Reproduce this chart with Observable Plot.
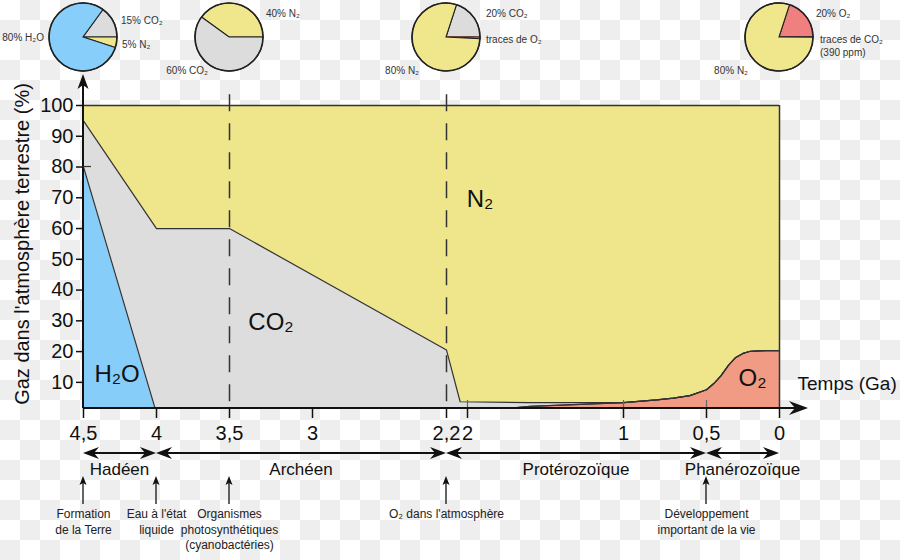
<!DOCTYPE html>
<html><head><meta charset="utf-8">
<script src="https://cdn.jsdelivr.net/npm/d3@7"></script>
<script src="https://cdn.jsdelivr.net/npm/@observablehq/plot@0.6"></script>
<style>
html,body{margin:0;padding:0;}
body{width:900px;height:560px;overflow:hidden;background-color:#fff;
background-image:linear-gradient(45deg,#eee 25%,transparent 25%,transparent 75%,#eee 75%),linear-gradient(45deg,#eee 25%,transparent 25%,transparent 75%,#eee 75%);
background-size:40px 40px;background-position:0 0,20px 20px;}
#chart svg{display:block}
</style></head><body><div id="chart"></div>
<script>
// ---- data ----
const times = [4.5, 4.0, 3.5, 2.2, 2.07, 1.6, 1.0, 0.8, 0.7, 0.6, 0.5, 0.45, 0.4, 0.35, 0.3, 0.25, 0.2, 0.1, 0];
const h2o   = [80, 0, 0, 0, 0, 0, 0, 0, 0, 0, 0, 0, 0, 0, 0, 0, 0, 0, 0];
const co2   = [15, 60, 60, 20.5, 3.7, 1.2, 0, 0, 0, 0, 0, 0, 0, 0, 0, 0, 0, 0, 0];
const o2    = [0, 0, 0, 0, 0, 2.2, 3.4, 4.3, 4.9, 5.7, 7.6, 9.6, 12.2, 15.5, 18.1, 19.4, 20.1, 20.3, 20.3];
const n2    = [5, 40, 40, 79.5, 96.3, 96.6, 96.6, 95.7, 95.1, 94.3, 92.4, 90.4, 87.8, 84.5, 81.9, 80.6, 79.9, 79.7, 79.7];

const gasKeys  = ["O2", "H2O", "CO2", "N2"];
const gasNames = ["O₂", "H₂O", "CO₂", "N₂"];
const gasLabelT = [0.185, 4.27, 3.25, 1.92];
const gasLabelV = [11.3, 12.5, 29.5, 69.4];

const xTicks = [4.5, 4, 3.5, 3, 2.2, 2, 1, 0.5, 0];
const yTicks = [10, 20, 30, 40, 50, 60, 70, 80, 90, 100];
const milestones = [3.5, 2.2];
const innerTicks = [2, 1, 0.5];

const eraNames = ["Hadéen", "Archéen", "Protérozoïque", "Phanérozoïque"];
const eraStart = [4.5, 4.0, 2.2, 0.5];
const eraEnd   = [4.0, 2.2, 0.5, 0];

const eventTimes  = [4.5, 4.0, 3.5, 2.2, 0.5];
const eventLabels = ["Formation\nde la Terre", "Eau à l'état\nliquide", "Organismes\nphotosynthétiques\n(cyanobactéries)", "O₂ dans l'atmosphère", "Développement\nimportant de la vie"];

const pieTimes  = [4.5, 3.5, 2.2, 0];
const pieGases  = [["CO2", "N2", "H2O"], ["N2", "CO2"], ["CO2", "O2", "N2"], ["O2", "CO2", "N2"]];
const pieValues = [[15, 5, 80], [40, 60], [20, 0.8, 79.2], [20, 0.04, 79.96]];
const pieLabels = [["80% H₂O", "15% CO₂", "5% N₂"], ["40% N₂", "60% CO₂"], ["20% CO₂", "traces de O₂", "80% N₂"], ["20% O₂", "traces de CO₂\n(390 ppm)", "80% N₂"]];

const yAxisTitle = "Gaz dans l'atmosphère terrestre (%)";
const xAxisTitle = "Temps (Ga)";

// ---- derived tables ----
const series = {O2: o2, H2O: h2o, CO2: co2, N2: n2};
const long = [];
for (const k of gasKeys) times.forEach((t, i) => long.push({t, gas: k, v: series[k][i]}));
const gasLabels = gasNames.map((text, i) => ({text, t: gasLabelT[i], v: gasLabelV[i]}));
const events = eventTimes.map((t, i) => ({t, label: eventLabels[i]}));

const areaColors = ["#F29B84", "#87CDF9", "#DDDDDD", "#EFE68C"];
const pieColors = {H2O: "#87CEFA", CO2: "#DCDCDC", N2: "#F0E68C", O2: "#F08080"};
const yBase = 1.5;

// layout for pie labels: [dx, dy, anchor] relative to pie centre
const pieLabelLayout = [
  [[-39, 0, "end"], [38, -17, "start"], [39, 7, "start"]],
  [[37, -24, "start"], [-21, 33, "end"]],
  [[40, -24, "start"], [40, 2, "start"], [-27, 33, "end"]],
  [[37, -24, "start"], [41, 2, "start"], [-31, 33, "end"]]
];

function head(g, tx, ty, angle, L, W, notch) {
  g.append("path")
    .attr("d", `M0,0L${-L},${-W}L${-L + notch},0L${-L},${W}Z`)
    .attr("transform", `translate(${tx},${ty}) rotate(${angle})`)
    .attr("fill", "#111").attr("stroke", "none");
}

function decorations(index, scales, values, dimensions) {
  const x = scales.x, y = scales.y;
  const {height, marginTop, marginBottom} = dimensions;
  const g = d3.create("svg:g");
  const font = "Liberation Sans, Arial, sans-serif";
  const x0 = x(4.5), xe = x(0), yb = y(yBase), yt = y(100);
  // axis lines with arrows
  g.append("line").attr("x1", x0).attr("x2", xe + 22).attr("y1", yb).attr("y2", yb).attr("stroke", "#111").attr("stroke-width", 2);
  head(g, xe + 29, yb, 0, 19, 7, 6);
  g.append("line").attr("x1", x0).attr("x2", x0).attr("y1", yb).attr("y2", yt - 26).attr("stroke", "#111").attr("stroke-width", 2);
  head(g, x0, yt - 31, -90, 15, 5.5, 4);
  // small tick at 80 crossing into the frame
  g.append("line").attr("x1", x0).attr("x2", x0 + 8).attr("y1", y(80)).attr("y2", y(80)).attr("stroke", "#333").attr("stroke-width", 1.2);
  // eras
  const ey = height - marginBottom + 45;
  eraNames.forEach((name, i) => {
    const a = x(eraStart[i]), b = x(eraEnd[i]);
    g.append("line").attr("x1", a + 6).attr("x2", b - 6).attr("y1", ey).attr("y2", ey).attr("stroke", "#111").attr("stroke-width", 2);
    head(g, b, ey, 0, 16, 6, 5);
    head(g, a, ey, 180, 16, 6, 5);
    g.append("text").attr("x", (a + b) / 2).attr("y", ey + 16).attr("dy", "0.35em")
      .attr("text-anchor", "middle").attr("font-size", 17).attr("font-family", font).attr("fill", "#111").text(name);
  });
  // event arrows
  const ay = height - marginBottom;
  eventTimes.forEach(t => {
    const px = x(t);
    g.append("line").attr("x1", px).attr("x2", px).attr("y1", ay + 96).attr("y2", ay + 74).attr("stroke", "#111").attr("stroke-width", 1.3);
    head(g, px, ay + 68, -90, 9, 3.5, 2);
  });
  // pies
  const cy = marginTop - 68, r = 34;
  pieTimes.forEach((t, p) => {
    const cx = x(t);
    const total = d3.sum(pieValues[p]);
    let a = Math.PI / 2 - pieValues[p][0] / total * 2 * Math.PI;
    const pg = g.append("g").attr("transform", `translate(${cx},${cy})`);
    pieValues[p].forEach((v, k) => {
      const a1 = a + v / total * 2 * Math.PI;
      pg.append("path").attr("d", d3.arc()({innerRadius: 0, outerRadius: r, startAngle: a, endAngle: a1}))
        .attr("fill", pieColors[pieGases[p][k]]).attr("stroke", pieGases[p][k] === "O2" && v < 2 ? "#5a1010" : "#222").attr("stroke-width", 1.1);
      a = a1;
    });
    pg.append("circle").attr("r", r).attr("fill", "none").attr("stroke", "#222").attr("stroke-width", 1.6);
    pieLabels[p].forEach((lab, k) => {
      const [dx, dy, anchor] = pieLabelLayout[p][k];
      lab.split("\n").forEach((line, j) => {
        pg.append("text").attr("x", dx).attr("y", dy + j * 13).attr("dy", "0.35em")
          .attr("text-anchor", anchor).attr("font-size", 10).attr("font-family", font).attr("fill", "#333").text(line);
      });
    });
  });
  return g.node();
}

const chart = Plot.plot({
  width: 900, height: 560,
  marginLeft: 83, marginRight: 121, marginTop: 105, marginBottom: 152,
  x: {type: "linear", domain: xTicks, range: [83, 156, 229, 312, 446, 467, 623, 706, 779]},
  y: {domain: [yBase, 100]},
  color: {domain: gasKeys, range: areaColors},
  style: {fontFamily: "Liberation Sans, Arial, sans-serif", background: "transparent", color: "#111", overflow: "visible"},
  marks: [
    Plot.areaY(long, {x: "t", y: "v", fill: "gas", order: gasKeys, clip: true}),
    Plot.lineY(long, Plot.stackY2({x: "t", y: "v", z: "gas", order: gasKeys, stroke: "#333", strokeWidth: 1.2, clip: true})),
    Plot.ruleX(innerTicks, {y1: yBase, y2: 4.1, stroke: "#666", strokeWidth: 1.2}),
    Plot.ruleX(milestones, {y1: 103.5, y2: yBase, stroke: "#333", strokeWidth: 1.5, strokeDasharray: "17,12"}),
    Plot.ruleY([100], {x1: 4.5, x2: 0, stroke: "#333", strokeWidth: 1.5}),
    Plot.ruleX([0], {y1: yBase, y2: 100, stroke: "#333", strokeWidth: 1.5}),
    Plot.axisY({ticks: yTicks, tickSize: 7, tickPadding: 3, fontSize: 20, label: null, strokeWidth: 1.5}),
    Plot.axisX({ticks: xTicks, tickSize: 10, tickPadding: 7, fontSize: 20, label: null, strokeWidth: 1.5, tickFormat: d => String(d).replace(".", ",")}),
    Plot.text(gasLabels, {x: "t", y: "v", text: "text", fontSize: 24, fill: "#111"}),
    Plot.text([yAxisTitle], {frameAnchor: "left", textAnchor: "middle", lineAnchor: "middle", rotate: -90, dx: -61, dy: -13, fontSize: 20, fill: "#111"}),
    Plot.text([xAxisTitle], {frameAnchor: "bottom-right", textAnchor: "start", lineAnchor: "middle", dx: 18, dy: -25, fontSize: 19, fill: "#111"}),
    Plot.text(events, {x: "t", text: "label", frameAnchor: "bottom", lineAnchor: "top", dy: 99, fontSize: 12, lineHeight: 1.28, fill: "#222"}),
    decorations
  ]
});
document.getElementById("chart").appendChild(chart);
</script>
</body></html>
